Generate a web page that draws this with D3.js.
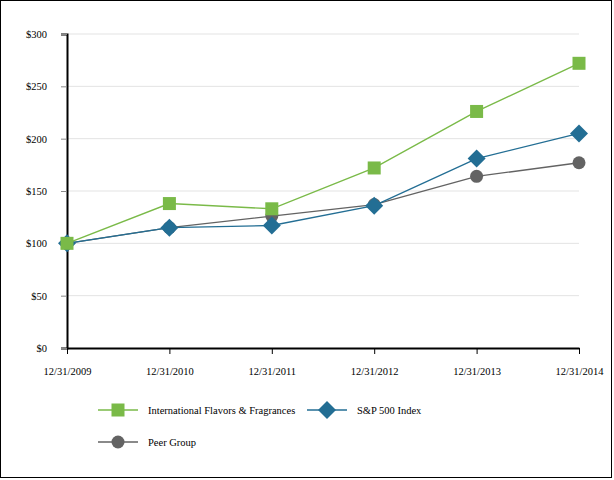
<!DOCTYPE html>
<html><head><meta charset="utf-8">
<script src="https://cdn.jsdelivr.net/npm/d3@7"></script>
<style>body{margin:0;background:#fff}svg{display:block}svg text{font-family:"Liberation Serif","DejaVu Serif",serif !important;fill:#000}</style>
</head><body><svg id="c" width="614" height="480"></svg>
<script>
const categories = ["12/31/2009","12/31/2010","12/31/2011","12/31/2012","12/31/2013","12/31/2014"];
const iff = [100,138,133,172,226,272];
const sp500 = [100,115,117,136,181,205];
const peer = [100,115,126,137,164,177];
const yTicks = [0,50,100,150,200,250,300];
const seriesNames = ["International Flavors & Fragrances","S&P 500 Index","Peer Group"];

const FONT = "'Liberation Serif','DejaVu Serif',serif";
const svg = d3.select("#c");
svg.append("rect").attr("x",0.5).attr("y",0.5).attr("width",611).attr("height",477).attr("fill","none").attr("stroke","#000");

const x = d3.scalePoint().domain(categories).range([67,579]);
const y = d3.scaleLinear().domain([0,300]).range([348,34]);

svg.append("g").selectAll("line").data(yTicks.filter(d=>d>0)).join("line")
  .attr("x1",67).attr("x2",579).attr("y1",d=>y(d)).attr("y2",d=>y(d))
  .attr("stroke","#e3e3e3").attr("stroke-width",1);

const yAxis = svg.append("g").attr("transform","translate(67,0)")
  .call(d3.axisLeft(y).tickValues(yTicks).tickFormat(d=>"$"+d).tickSize(6).tickPadding(14))
  .attr("font-family",FONT).attr("font-size",10.5);
yAxis.select(".domain").attr("stroke","#000").attr("stroke-width",2);
yAxis.selectAll(".tick line").attr("stroke","#888");

const xAxis = svg.append("g").attr("transform","translate(0,348)")
  .call(d3.axisBottom(x).tickSize(6).tickPadding(14).tickSizeOuter(0))
  .attr("font-family",FONT).attr("font-size",10.5);
xAxis.select(".domain").attr("stroke","#000").attr("stroke-width",2);
xAxis.selectAll(".tick line").attr("stroke","#000");

const colors = {iff:"#7aba48", sp:"#236e94", peer:"#636363"};
const line = d3.line().x((d,i)=>x(categories[i])).y(d=>y(d));

function drawMarker(g, type, cx, cy, color){
  if(type==="square") g.append("rect").attr("x",cx-6.5).attr("y",cy-6.5).attr("width",13).attr("height",13).attr("fill",color);
  else if(type==="diamond") g.append("path").attr("d",`M${cx},${cy-9}L${cx+9},${cy}L${cx},${cy+9}L${cx-9},${cy}Z`).attr("fill",color);
  else g.append("circle").attr("cx",cx).attr("cy",cy).attr("r",6.5).attr("fill",color);
}

const series = [
  {vals:peer, color:colors.peer, m:"circle"},
  {vals:sp500, color:colors.sp, m:"diamond"},
  {vals:iff, color:colors.iff, m:"square"}
];
series.forEach(s=>{
  const g = svg.append("g");
  g.append("path").attr("d",line(s.vals)).attr("fill","none").attr("stroke",s.color).attr("stroke-width",1.4);
  s.vals.forEach((v,i)=>drawMarker(g,s.m,x(categories[i]),y(v),s.color));
});

const legend = [
  {name:seriesNames[0], color:colors.iff, m:"square", lx:98, ly:410},
  {name:seriesNames[1], color:colors.sp, m:"diamond", lx:307, ly:410},
  {name:seriesNames[2], color:colors.peer, m:"circle", lx:98, ly:442}
];
legend.forEach(l=>{
  const g = svg.append("g");
  g.append("line").attr("x1",l.lx).attr("x2",l.lx+40).attr("y1",l.ly).attr("y2",l.ly).attr("stroke",l.color).attr("stroke-width",1.4);
  drawMarker(g,l.m,l.lx+20,l.ly,l.color);
  g.append("text").attr("x",l.lx+50).attr("y",l.ly+4).attr("font-family",FONT).attr("font-size",10.5).text(l.name);
});
</script></body></html>
